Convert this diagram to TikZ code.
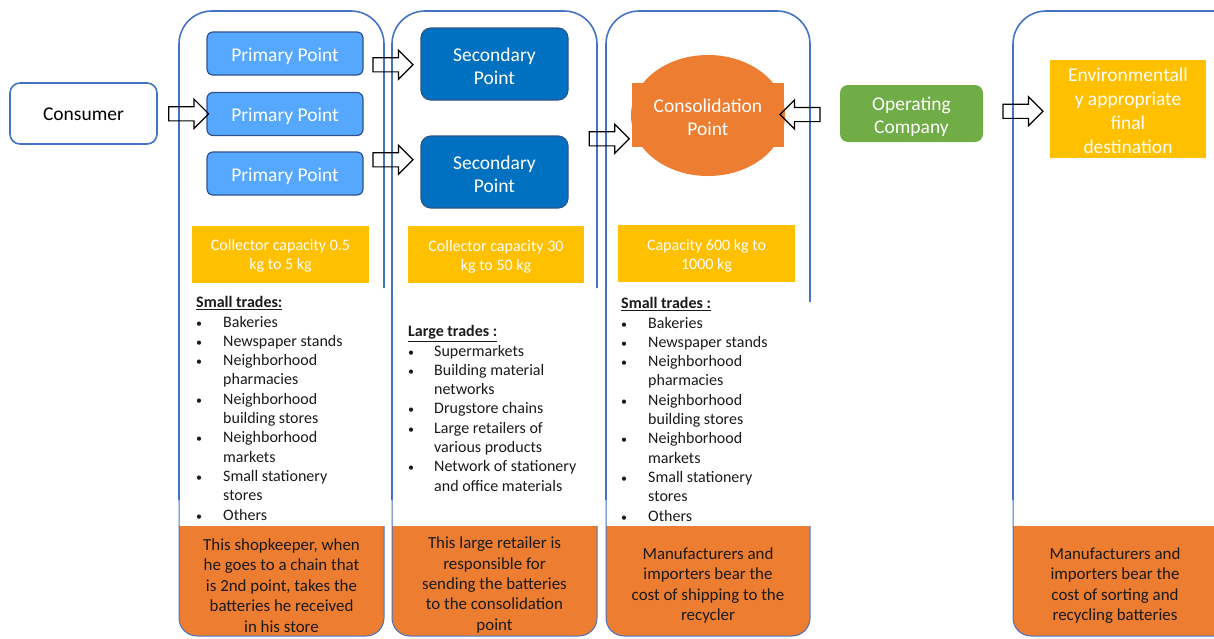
\documentclass[tikz,border=0pt]{standalone}
\usepackage{fontspec}
\setmainfont{Carlito}
\usetikzlibrary{shapes.arrows,shapes.geometric,calc}
\definecolor{colblue}{HTML}{4472C4}
\definecolor{ppfill}{HTML}{56A8FF}
\definecolor{boxline}{HTML}{2F528F}
\definecolor{spfill}{HTML}{0070C0}
\definecolor{orangec}{HTML}{ED7D31}
\definecolor{yellowc}{HTML}{FFC000}
\definecolor{greenc}{HTML}{70AD47}
\definecolor{textdark}{HTML}{1A1A1A}
\newcommand\mybigfont{\fontsize{19.5pt}{23.5pt}\selectfont}
\newcommand\mylistfont{\fontsize{16pt}{19.3pt}\selectfont}
\newcommand\mybotfont{\fontsize{16.9pt}{20.4pt}\selectfont}
\newcommand\mystrut[1]{\rule{0pt}{#1}}
\newcommand\mybul{{\fontsize{12pt}{12pt}\selectfont\textbullet}}
\begin{document}
\begin{tikzpicture}[x=1pt,y=-1pt,
  colborder/.style={draw=colblue,line width=1.6pt},
  consbox/.style={draw=colblue,line width=1.6pt,fill=white,rounded corners=10pt,minimum width=147pt,minimum height=61pt,font=\mybigfont,text=black,text height=18.5pt,text depth=3.9pt},
  ppbox/.style={fill=ppfill,draw=boxline,line width=1.2pt,rounded corners=6pt,minimum width=156pt,minimum height=43pt,text=white,font=\mybigfont,text height=19pt,text depth=3.9pt,inner ysep=0pt},
  spbox/.style={fill=spfill,draw=boxline,line width=1.2pt,rounded corners=10pt,minimum width=147pt,minimum height=72pt,text=white,font=\mybigfont,align=center},
  opbox/.style={fill=greenc,rounded corners=8pt,minimum width=143pt,minimum height=57pt,text=white,font=\mybigfont,align=center,inner ysep=0pt},
  envbox/.style={fill=yellowc,minimum width=156pt,minimum height=98pt,text=white,font=\fontsize{19.5pt}{24pt}\selectfont,align=center,inner sep=0pt},
  capbox/.style={fill=yellowc,minimum width=177pt,minimum height=57pt,text=white,font=\mylistfont,align=center,inner sep=0pt},
  listtext/.style={anchor=north west,inner sep=0pt,font=\mylistfont,text=textdark},
  bottext/.style={inner sep=0pt,font=\mybotfont,text=textdark,align=center},
  blockarrow/.style={single arrow,draw=black,line width=1.2pt,inner xsep=0pt,inner ysep=6.5pt,single arrow head extend=7.5pt,minimum height=40pt}
]
\useasboundingbox (0,0) rectangle (1214,638);
\clip (0,0) rectangle (1214,638);

% ---------- columns ----------
\foreach \xa/\xb/\yr in {179/384/288, 392/597/288, 606/810/302, 1013/1260/700}{
  \begin{scope}
    \clip[rounded corners=18pt] (\xa,0) rectangle (\xb,636);
    \fill[orangec] (\xa,526) rectangle (\xb,636);
  \end{scope}
  \draw[colborder,rounded corners=33pt] (\xa,500) -- (\xa,11) -- (\xb,11) -- (\xb,\yr);
  \draw[colborder,line width=1pt,rounded corners=18pt] (\xa,500) -- (\xa,636) -- (\xb,636) -- (\xb,526);
}

% ---------- main nodes ----------
\node[consbox] (cons) at (83.5,113.5) {Consumer};
\node[ppbox] (pp1) at (285,53.5) {Primary Point};
\node[ppbox] (pp2) at (285,114) {Primary Point};
\node[ppbox] (pp3) at (285,173.5) {Primary Point};
\node[spbox] (sp1) at (494.5,64) {\mystrut{17.7pt}Secondary\\Point};
\node[spbox] (sp2) at (494.5,172) {\mystrut{17.7pt}Secondary\\Point};

\fill[orangec] (632,83) rectangle (784,147);
\node[ellipse,fill=orangec,minimum width=154pt,minimum height=121pt,inner sep=0pt,text=white,font=\mybigfont,align=center] (cp) at (708,115.5) {\mystrut{16.7pt}Consolidation\\Point};

\node[opbox] (opc) at (911.5,113.5) {\mystrut{19.7pt}Operating\\Company};
\node[envbox] (env) at (1128,109) {\mystrut{17.2pt}Environmentall\\y appropriate\\final\\destination};

% ---------- capacity boxes ----------
\node[capbox] (cap1) at (280.5,254) {\mystrut{15.2pt}Collector capacity 0.5\\kg to 5 kg};
\node[capbox,minimum width=176pt] (cap2) at (496,254.5) {\mystrut{15.2pt}Collector capacity 30\\kg to 50 kg};
\node[capbox] (cap3) at (706.5,253.5) {\mystrut{15.2pt}Capacity 600 kg to\\1000 kg};

% ---------- lists ----------
\node[listtext] (list1) at (196,294) {%
\begin{tabular}{@{}p{27pt}@{}l@{}}
\multicolumn{2}{@{}l}{\underline{\textbf{Small trades:}}}\\
\mybul & Bakeries\\
\mybul & Newspaper stands\\
\mybul & Neighborhood\\
 & pharmacies\\
\mybul & Neighborhood\\
 & building stores\\
\mybul & Neighborhood\\
 & markets\\
\mybul & Small stationery\\
 & stores\\
\mybul & Others
\end{tabular}};

\node[listtext] (list2) at (408,323) {%
\begin{tabular}{@{}p{26pt}@{}l@{}}
\multicolumn{2}{@{}l}{\underline{\textbf{Large trades :}}}\\
\mybul & Supermarkets\\
\mybul & Building material\\
 & networks\\
\mybul & Drugstore chains\\
\mybul & Large retailers of\\
 & various products\\
\mybul & Network of stationery\\
 & and office materials
\end{tabular}};

\node[listtext] (list3) at (621,295) {%
\begin{tabular}{@{}p{27pt}@{}l@{}}
\multicolumn{2}{@{}l}{\underline{\textbf{Small trades :}}}\\
\mybul & Bakeries\\
\mybul & Newspaper stands\\
\mybul & Neighborhood\\
 & pharmacies\\
\mybul & Neighborhood\\
 & building stores\\
\mybul & Neighborhood\\
 & markets\\
\mybul & Small stationery\\
 & stores\\
\mybul & Others
\end{tabular}};

% ---------- bottom texts ----------
\node[bottext] (b1) at (281.5,585.5) {This shopkeeper, when\\he goes to a chain that\\is 2nd point, takes the\\batteries he received\\in his store};
\node[bottext] (b2) at (494.5,585) {This large retailer is\\responsible for\\sending the batteries\\to the consolidation\\point};
\node[bottext] (b3) at (708,585.5) {Manufacturers and\\importers bear the\\cost of shipping to the\\recycler};
\node[bottext] (b4) at (1115,585.5) {Manufacturers and\\importers bear the\\cost of sorting and\\recycling batteries};

% ---------- block arrows ----------
\node[blockarrow] (a1) at ($(cons.east)!0.5!(pp2.west)+(3,0)$) {};
\node[blockarrow] (a2) at ($(pp1.east)!0.5!(sp1.west)+(-2.5,6)$) {};
\node[blockarrow] (a3) at ($(pp3.east)!0.5!(sp2.west)+(-2.5,-13)$) {};
\node[blockarrow] (a4) at ($(sp1.east)!0.5!(cp.west)+(6,49)$) {};
\node[blockarrow,shape border rotate=180] (a5) at ($(cp.east)!0.5!(opc.west)+(-9,0)$) {};
\node[blockarrow] (a6) at ($(opc.east)!0.5!(env.west)+(3,0)$) {};
\end{tikzpicture}
\end{document}
